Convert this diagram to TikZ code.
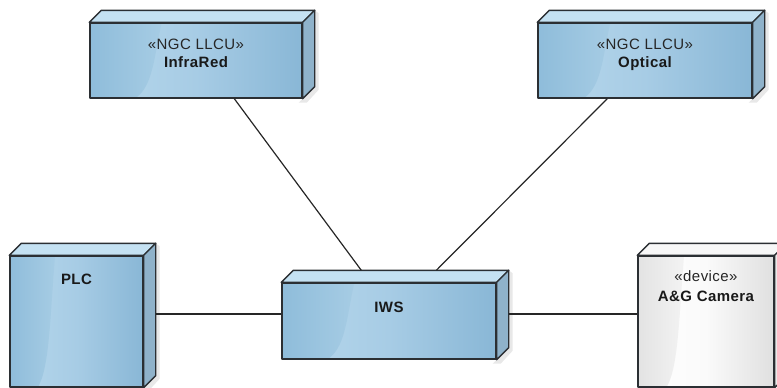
\documentclass[tikz,border=0pt]{standalone}
\usepackage{fontspec}
\setmainfont{Liberation Sans}[LetterSpace=3.0]
\usetikzlibrary{calc}
\definecolor{edge}{HTML}{2B2F33}
\definecolor{bLa}{HTML}{8EBCDA}
\definecolor{bLb}{HTML}{A6CCE4}
\definecolor{bM}{HTML}{B7D8EC}
\definecolor{bMid}{HTML}{A7CCE5}
\definecolor{bR}{HTML}{89B7D6}
\definecolor{bTop}{HTML}{C4E1F2}
\definecolor{bSide}{HTML}{8FB2CA}
\definecolor{gLa}{HTML}{E2E2E2}
\definecolor{gLb}{HTML}{F3F3F3}
\definecolor{gM}{HTML}{FFFFFF}
\definecolor{gMid}{HTML}{FAFAFA}
\definecolor{gR}{HTML}{E0E0E0}
\definecolor{gTop}{HTML}{F7F7F7}
\definecolor{gSide}{HTML}{EAEAEA}
\newcommand\glosspath{%
  \path (path picture bounding box.south west) coordinate (pA)
        (path picture bounding box.north east) coordinate (pB);
}
\tikzset{
  front/.style={draw=edge, line width=1.4pt, inner sep=0pt, line join=round},
  gloss/.style 2 args={path picture={%
    \glosspath
    \shade[left color=#1, right color=#2]
      let \p1=(pA), \p2=(pB), \n1={\x2-\x1}, \n2={\y2-\y1} in
      (\x1-2pt,\y1-2pt) -- ({\x1+0.20*\n1},\y1-2pt)
      .. controls ({\x1+0.30*\n1},{\y1+0.12*\n2}) and ({\x1+0.30*\n1},{\y1+0.55*\n2}) ..
      ({\x1+0.34*\n1},\y2+2pt) -- (\x1-2pt,\y2+2pt) -- cycle;
  }},
  bluefront/.style={front, left color=bM, right color=bR, middle color=bMid, gloss={bLa}{bLb}},
  greyfront/.style={front, left color=gM, right color=gR, middle color=gMid, gloss={gLa}{gLb}},
  face/.style={draw=edge, line width=1.4pt, line join=round},
  stereo/.style={font=\fontsize{15}{17}\selectfont, text=black!85, anchor=base, inner sep=0pt},
  title/.style={font=\fontsize{15}{17}\selectfont\bfseries, text=black!90, anchor=base, inner sep=0pt},
  link/.style={draw=black!85, line width=1.2pt},
  shadow/.style={fill=black!9}
}
\newcommand\cubefaces[3]{%
  \filldraw[face, fill=#2] (#1.north west) -- ++(12,-12) -- ($(#1.north east)+(12,-12)$) -- (#1.north east) -- cycle;
  \filldraw[face, fill=#3] (#1.north east) -- ++(12,-12) -- ($(#1.south east)+(12,-12)$) -- (#1.south east) -- cycle;
}
\newcommand\cubeshadow[1]{%
  \fill[shadow] ($(#1.north east)+(16,-9)$) -- ($(#1.south east)+(16,-9)$) -- ($(#1.south east)+(4,4)$) -- ($(#1.south east)+(-4,4)$) -- ($(#1.south east)+(0,0)$) -- ($(#1.north east)+(12,-12)$) -- cycle;
}
\begin{document}
\begin{tikzpicture}[x=1pt, y=-1pt]
\useasboundingbox (0,0) rectangle (777,388);
% boxes
\node[bluefront, minimum width=212pt, minimum height=75pt] (ir) at (196,60.5) {};
\cubeshadow{ir}
\cubefaces{ir}{bTop}{bSide}
\node[bluefront, minimum width=214pt, minimum height=75pt] (op) at (645,60.5) {};
\cubeshadow{op}
\cubefaces{op}{bTop}{bSide}
\node[bluefront, minimum width=133pt, minimum height=131pt] (plc) at (76.5,321.5) {};
\cubeshadow{plc}
\cubefaces{plc}{bTop}{bSide}
\node[bluefront, minimum width=214pt, minimum height=76pt] (iws) at (389,321) {};
\cubeshadow{iws}
\cubefaces{iws}{bTop}{bSide}
\node[greyfront, minimum width=136pt, minimum height=131pt] (cam) at (706,321.5) {};
\cubefaces{cam}{gTop}{gSide}
% texts
\node[stereo] (irs) at ($(ir.north)+(0,27)$) {«NGC LLCU»};
\node[title]  (irt) at ($(ir.north)+(0,45)$) {InfraRed};
\node[stereo] (ops) at ($(op.north)+(0,27)$) {«NGC LLCU»};
\node[title]  (opt) at ($(op.north)+(0,45)$) {Optical};
\node[title]  (plct) at ($(plc.north)+(0,29)$) {PLC};
\node[title]  (iwst) at ($(iws.north)+(0,30)$) {IWS};
\node[stereo] (cams) at ($(cam.north)+(0,26)$) {«device»};
\node[title]  (camt) at ($(cam.north)+(0,46)$) {A\&G Camera};
% connectors
\draw[link] ($(ir.south west)+(145,0)$) -- ($(iws.north west)+(80,-12)$);
\draw[link] ($(op.south west)+(70,0)$) -- ($(iws.north west)+(155,-12)$);
\draw[link] ($(plc.east)+(12,-7.5)$) -- ($(iws.west)+(0,-7)$);
\draw[link] ($(iws.east)+(12,-7)$) -- ($(cam.west)+(0,-7.5)$);
\end{tikzpicture}
\end{document}
